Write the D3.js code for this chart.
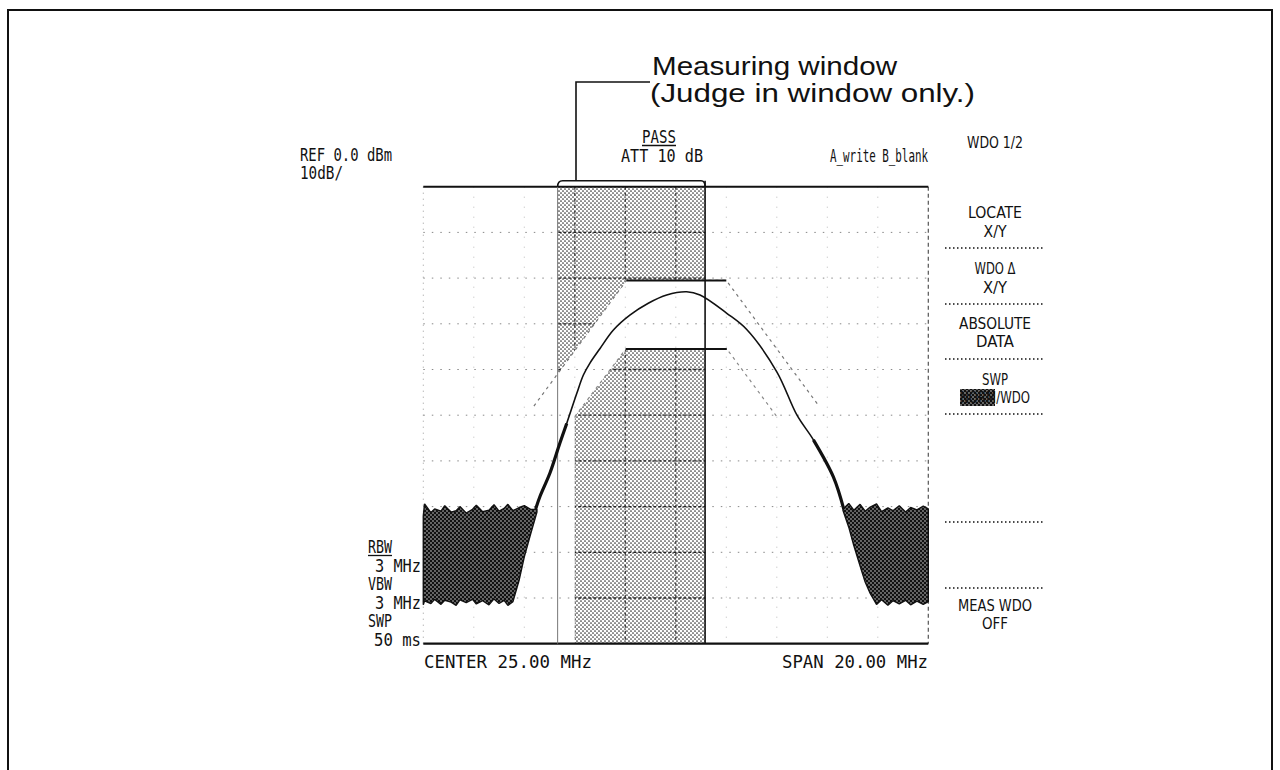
<!DOCTYPE html>
<html><head><meta charset="utf-8">
<script src="https://cdn.jsdelivr.net/npm/d3@7/dist/d3.min.js"></script>
<style>html,body{margin:0;padding:0;background:#fff}svg{display:block}</style>
</head><body>
<svg id="chart" width="1280" height="770"></svg>
<script>
// ---------------- data ----------------
const freqDomain = [15, 35];          // MHz  (CENTER 25.00, SPAN 20.00)
const levelDomain = [-100, 0];        // dBm  (REF 0.0, 10 dB/div)
const freqTicks = [15, 17, 19, 21, 23, 25, 27, 29, 31, 33, 35];
const levelTicks = [0, -10, -20, -30, -40, -50, -60, -70, -80, -90, -100];

const windowFreq = [20.32, 26.16];    // measuring window

const upperLimitFreq  = [19.38, 23.05, 27.0, 30.67];
const upperLimitLevel = [-48, -20.5, -20.5, -48];
const lowerLimitFreq  = [21.0, 21.0, 23.02, 27.02, 29.0, 29.0];
const lowerLimitLevel = [-100, -50.3, -35.5, -35.5, -50.3, -100];

const traceFreq  = [19.45, 19.62, 20.02, 20.41, 20.68, 21.08, 21.34, 21.6, 22.0, 22.52, 23.18, 23.91, 24.64, 25.43, 25.96, 27.02, 27.8, 29.0, 29.8, 30.45, 31.24, 31.65];
const traceLevel = [-70.5, -67.8, -62.6, -56.1, -51.8, -45.2, -41.2, -38.6, -35.4, -31.4, -28.1, -25.5, -23.7, -23.0, -23.7, -27.7, -31.2, -40.5, -50.0, -55.4, -63.5, -70.5];

const noiseLeftFreq   = [15.0, 15.05, 15.3, 15.45, 15.7, 15.85, 16.1, 16.3, 16.45, 16.7, 16.95, 17.1, 17.35, 17.6, 17.8, 18.0, 18.2, 18.35, 18.55, 18.8, 19.0, 19.25, 19.5];
const noiseLeftTop    = [-72.0, -69.4, -71.3, -70.5, -71.0, -69.8, -71.2, -70.9, -70.0, -71.4, -70.6, -69.7, -71.1, -70.8, -69.6, -71.0, -70.4, -69.5, -70.9, -70.2, -69.8, -70.6, -70.6];
const noiseLeftBottom = [-91.5, -90.6, -91.2, -90.3, -91.4, -90.5, -90.9, -91.6, -90.4, -91.0, -90.3, -91.3, -90.6, -91.5, -90.2, -91.2, -90.5, -91.6, -90.8, -86.0, -81.0, -76.0, -71.2];

const noiseRightFreq   = [31.62, 31.85, 32.05, 32.3, 32.5, 32.7, 32.95, 33.15, 33.4, 33.6, 33.85, 34.1, 34.3, 34.55, 34.8, 35.0];
const noiseRightTop    = [-70.6, -69.3, -70.8, -69.5, -71.0, -70.1, -69.4, -71.1, -70.3, -70.9, -69.8, -71.2, -70.2, -70.7, -69.9, -70.5];
const noiseRightBottom = [-70.8, -74.5, -78.5, -83.0, -86.5, -89.0, -91.4, -90.4, -91.6, -90.6, -91.3, -90.5, -91.5, -90.7, -91.4, -90.8];

const screenLabels = [
  {t: "REF 0.0 dBm",       x: 300, y: 161, w: 92},
  {t: "10dB/",             x: 300, y: 179, w: 43},
  {t: "ATT 10 dB",         x: 621, y: 162, w: 82},
  {t: "A_write B_blank",   x: 830, y: 162, w: 98},
  {t: "3 MHz",             x: 375, y: 572, w: 46},
  {t: "3 MHz",             x: 375, y: 609, w: 46},
  {t: "50 ms",             x: 374, y: 646, w: 47},
  {t: "CENTER 25.00 MHz",  x: 424, y: 668, w: 168},
  {t: "SPAN 20.00 MHz",    x: 782, y: 668, w: 146}
];
const underlinedLabels = [
  {t: "PASS", x: 642, y: 143, w: 34},
  {t: "RBW",  x: 368, y: 553, w: 24},
  {t: "VBW",  x: 368, y: 590, w: 24, plain: true},
  {t: "SWP",  x: 368, y: 627, w: 24, plain: true}
];
const menuLabels = [
  {t: "WDO 1/2",  y: 148, w: 56},
  {t: "LOCATE",   y: 218, w: 54},
  {t: "X/Y",      y: 237, w: 23},
  {t: "WDO Δ",    y: 274, w: 41},
  {t: "X/Y",      y: 293, w: 24},
  {t: "ABSOLUTE", y: 329, w: 72},
  {t: "DATA",     y: 347, w: 38},
  {t: "SWP",      y: 385, w: 26},
  {t: "NORM/WDO", y: 403, w: 70},
  {t: "MEAS WDO", y: 611, w: 74},
  {t: "OFF",      y: 629, w: 26}
];
const menuSeparators = [248, 304, 359, 414, 522, 588];

// ---------------- drawing ----------------
const svg = d3.select("#chart");
const x = d3.scaleLinear().domain(freqDomain).range([423.3, 928.3]);
const y = d3.scaleLinear().domain(levelDomain).range([643.7, 186.7]);
const zip = (a, b) => a.map((v, i) => [v, b[i]]);

const defs = svg.append("defs");
const p1 = defs.append("pattern").attr("id", "halftone").attr("patternUnits", "userSpaceOnUse")
  .attr("width", 4).attr("height", 4);
p1.append("rect").attr("width", 4).attr("height", 4).attr("fill", "#fff");
p1.append("circle").attr("cx", 1).attr("cy", 1).attr("r", 0.85).attr("fill", "#333");
p1.append("circle").attr("cx", 3).attr("cy", 3).attr("r", 0.85).attr("fill", "#333");
const p2 = defs.append("pattern").attr("id", "darktone").attr("patternUnits", "userSpaceOnUse")
  .attr("width", 4).attr("height", 4);
p2.append("rect").attr("width", 4).attr("height", 4).attr("fill", "#111");
p2.append("circle").attr("cx", 1).attr("cy", 1).attr("r", 0.65).attr("fill", "#fff");
p2.append("circle").attr("cx", 3).attr("cy", 3).attr("r", 0.65).attr("fill", "#fff");

// outer border
svg.append("rect").attr("x", 8).attr("y", 10).attr("width", 1264).attr("height", 780)
  .attr("fill", "none").attr("stroke", "#111").attr("stroke-width", 2);

const line = d3.line().x(d => x(d[0])).y(d => y(d[1]));

// band between limits (not judged as shaded)
const bandPts = zip(upperLimitFreq, upperLimitLevel);
bandPts.push([upperLimitFreq[upperLimitFreq.length - 1], levelDomain[0]]);
zip(lowerLimitFreq, lowerLimitLevel).reverse().forEach(p => bandPts.push(p));
bandPts.push([upperLimitFreq[0], levelDomain[0]]);

const mask = defs.append("mask").attr("id", "shadeMask");
mask.append("rect").attr("x", x(windowFreq[0])).attr("y", y(0))
  .attr("width", x(windowFreq[1]) - x(windowFreq[0])).attr("height", y(-100) - y(0)).attr("fill", "#fff");
mask.append("path").attr("d", line(bandPts) + "Z").attr("fill", "#000");

// light grid everywhere
const grid = svg.append("g");
grid.selectAll("line.h").data(levelTicks.slice(1, -1)).join("line")
  .attr("x1", x(15)).attr("x2", x(35)).attr("y1", d => y(d)).attr("y2", d => y(d))
  .attr("stroke", "#888").attr("stroke-width", 1).attr("stroke-dasharray", "1.5,7");
grid.selectAll("line.v").data(freqTicks.slice(1, -1)).join("line")
  .attr("y1", y(0)).attr("y2", y(-100)).attr("x1", d => x(d)).attr("x2", d => x(d))
  .attr("stroke", "#bbb").attr("stroke-width", 1).attr("stroke-dasharray", "1,9");

// shaded measuring window
const shade = svg.append("g").attr("mask", "url(#shadeMask)");
shade.append("rect").attr("x", x(windowFreq[0])).attr("y", y(0))
  .attr("width", x(windowFreq[1]) - x(windowFreq[0])).attr("height", y(-100) - y(0))
  .attr("fill", "url(#halftone)");
shade.selectAll("line.h").data(levelTicks.slice(1, -1)).join("line")
  .attr("x1", x(15)).attr("x2", x(35)).attr("y1", d => y(d)).attr("y2", d => y(d))
  .attr("stroke", "#222").attr("stroke-width", 1.3).attr("stroke-dasharray", "3,2");
shade.selectAll("line.v").data(freqTicks.slice(1, -1)).join("line")
  .attr("y1", y(0)).attr("y2", y(-100)).attr("x1", d => x(d)).attr("x2", d => x(d))
  .attr("stroke", "#333").attr("stroke-width", 1.2).attr("stroke-dasharray", "3,3");

// frame
svg.append("line").attr("x1", x(15)).attr("x2", x(15)).attr("y1", y(0)).attr("y2", y(-100))
  .attr("stroke", "#999").attr("stroke-dasharray", "1,5");
svg.append("line").attr("x1", x(35)).attr("x2", x(35)).attr("y1", y(0)).attr("y2", y(-100))
  .attr("stroke", "#555").attr("stroke-width", 1.2).attr("stroke-dasharray", "4,3");
svg.append("line").attr("x1", x(15)).attr("x2", x(35)).attr("y1", y(0)).attr("y2", y(0))
  .attr("stroke", "#111").attr("stroke-width", 2);
svg.append("line").attr("x1", x(15)).attr("x2", x(35)).attr("y1", y(-100)).attr("y2", y(-100))
  .attr("stroke", "#111").attr("stroke-width", 2.2);

// window edges
svg.append("line").attr("x1", x(windowFreq[0])).attr("x2", x(windowFreq[0])).attr("y1", y(0)).attr("y2", y(-100))
  .attr("stroke", "#777").attr("stroke-width", 1);
svg.append("line").attr("x1", x(windowFreq[1])).attr("x2", x(windowFreq[1])).attr("y1", y(0) - 6).attr("y2", y(-100))
  .attr("stroke", "#111").attr("stroke-width", 1.6);

// limit lines
svg.append("path").attr("d", line(zip(upperLimitFreq, upperLimitLevel)))
  .attr("fill", "none").attr("stroke", "#777").attr("stroke-width", 1.2).attr("stroke-dasharray", "3,4");
svg.append("path").attr("d", line(zip(lowerLimitFreq, lowerLimitLevel).slice(1, -1)))
  .attr("fill", "none").attr("stroke", "#888").attr("stroke-width", 1.2).attr("stroke-dasharray", "3,4");
svg.append("line").attr("x1", x(upperLimitFreq[1])).attr("x2", x(upperLimitFreq[2]))
  .attr("y1", y(upperLimitLevel[1])).attr("y2", y(upperLimitLevel[2]))
  .attr("stroke", "#111").attr("stroke-width", 2);
svg.append("line").attr("x1", x(lowerLimitFreq[2])).attr("x2", x(lowerLimitFreq[3]))
  .attr("y1", y(lowerLimitLevel[2])).attr("y2", y(lowerLimitLevel[3]))
  .attr("stroke", "#111").attr("stroke-width", 2);

// noise floor
const area = (f, top, bot) => line(zip(f, top).concat(zip(f, bot).reverse())) + "Z";
svg.append("path").attr("d", area(noiseLeftFreq, noiseLeftTop, noiseLeftBottom))
  .attr("fill", "url(#darktone)").attr("stroke", "#111").attr("stroke-width", 1.4).attr("stroke-linejoin", "bevel");
svg.append("path").attr("d", area(noiseRightFreq, noiseRightTop, noiseRightBottom))
  .attr("fill", "url(#darktone)").attr("stroke", "#111").attr("stroke-width", 1.4).attr("stroke-linejoin", "bevel");

// signal trace
const curve = d3.line().x(d => x(d[0])).y(d => y(d[1])).curve(d3.curveCatmullRom.alpha(0.5));
const tr = zip(traceFreq, traceLevel);
svg.append("path").attr("d", curve(tr)).attr("fill", "none").attr("stroke", "#111").attr("stroke-width", 1.6);
svg.append("path").attr("d", curve(tr.slice(0, 5))).attr("fill", "none").attr("stroke", "#111").attr("stroke-width", 3.2);
svg.append("path").attr("d", curve(tr.slice(-3))).attr("fill", "none").attr("stroke", "#111").attr("stroke-width", 3.2);

// window bracket and callout
const xl = x(windowFreq[0]), xr = x(windowFreq[1]), yt = y(0);
svg.append("path").attr("d", `M${xl},${yt} Q${xl},${yt - 6} ${xl + 5},${yt - 6} L${xr - 4},${yt - 6} Q${xr},${yt - 6} ${xr},${yt}`)
  .attr("fill", "none").attr("stroke", "#111").attr("stroke-width", 1.6);
svg.append("path").attr("d", `M${576},${yt - 6} L576,82 L650,82`)
  .attr("fill", "none").attr("stroke", "#111").attr("stroke-width", 1.6);
svg.append("text").text("Measuring window").attr("x", 652).attr("y", 75)
  .attr("font-family", "Liberation Sans, Arial, sans-serif").attr("font-size", 25)
  .attr("textLength", 245).attr("lengthAdjust", "spacingAndGlyphs").attr("fill", "#111");
svg.append("text").text("(Judge in window only.)").attr("x", 650).attr("y", 102)
  .attr("font-family", "Liberation Sans, Arial, sans-serif").attr("font-size", 25)
  .attr("textLength", 325).attr("lengthAdjust", "spacingAndGlyphs").attr("fill", "#111");

// screen labels
const mono = "DejaVu Sans Mono, Liberation Mono, monospace";
svg.append("g").selectAll("text").data(screenLabels).join("text")
  .text(d => d.t).attr("x", d => d.x).attr("y", d => d.y)
  .attr("font-family", mono).attr("font-size", 17)
  .attr("textLength", d => d.w).attr("lengthAdjust", "spacingAndGlyphs").attr("fill", "#111");
const ul = svg.append("g").selectAll("g").data(underlinedLabels).join("g");
ul.append("text").text(d => d.t).attr("x", d => d.x).attr("y", d => d.y)
  .attr("font-family", mono).attr("font-size", 17)
  .attr("textLength", d => d.w).attr("lengthAdjust", "spacingAndGlyphs").attr("fill", "#111");
ul.filter(d => !d.plain).append("line").attr("x1", d => d.x).attr("x2", d => d.x + d.w)
  .attr("y1", d => d.y + 2.5).attr("y2", d => d.y + 2.5).attr("stroke", "#111").attr("stroke-width", 1.3);

// soft-key menu
const menuX = 995;
const norm = menuLabels.find(d => d.t === "NORM/WDO");
svg.append("rect").attr("x", menuX - norm.w / 2).attr("y", norm.y - 14).attr("width", 35).attr("height", 17)
  .attr("fill", "url(#darktone)");
svg.append("g").selectAll("text").data(menuLabels).join("text")
  .text(d => d.t).attr("x", menuX).attr("y", d => d.y).attr("text-anchor", "middle")
  .attr("font-family", "DejaVu Sans Condensed, DejaVu Sans, sans-serif").attr("font-stretch", "condensed")
  .attr("font-size", 16).attr("textLength", d => d.w).attr("lengthAdjust", "spacingAndGlyphs").attr("fill", "#111");
svg.append("g").selectAll("line").data(menuSeparators).join("line")
  .attr("x1", 945).attr("x2", 1045).attr("y1", d => d).attr("y2", d => d)
  .attr("stroke", "#111").attr("stroke-width", 1.5).attr("stroke-dasharray", "1.5,2.5");
</script>
</body></html>
